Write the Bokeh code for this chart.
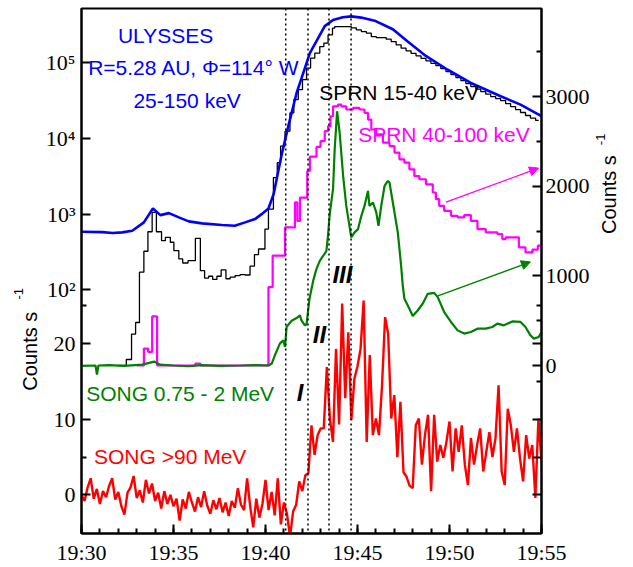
import math
from bokeh.plotting import figure
from bokeh.layouts import row
from bokeh.models import (Range1d, LogScale, LinearAxis, FixedTicker, CustomJSTickFormatter,
                          Span, Label, Arrow, NormalHead)
from bokeh.core.properties import value
from bokeh.embed import file_html
from bokeh.resources import INLINE

# ---------------- data (time = minutes after 19:30 UT) ----------------
x_ticks = [0, 5, 10, 15, 20, 25]
x_tick_labels = ["19:30", "19:35", "19:40", "19:45", "19:50", "19:55"]

# ULYSSES 25-150 keV (left log axis)
ulysses_t = [0.0, 1.14, 1.68, 2.22, 2.76, 3.39, 3.88, 4.29, 4.75, 5.29, 5.83, 6.55, 7.63,
             8.33, 8.89, 9.43, 9.79, 10.16, 10.44, 10.66, 10.88, 11.24, 11.69, 12.05, 12.41,
             12.86, 13.22, 13.67, 14.2, 14.66, 15.2, 15.93, 16.92, 17.73, 18.63, 19.90, 21.16,
             22.78, 23.86, 24.85, 25.0]
ulysses_counts = [585, 579, 562, 574, 603, 778, 1189, 970, 1031, 905, 802, 755, 717,
                  702, 778, 860, 1000, 1189, 1834, 3357, 6152, 14520, 39900, 73100, 134300,
                  211500, 305000, 368000, 400000, 410000, 395000, 360000, 277000, 190500, 127400,
                  80900, 54100, 36100, 28000, 20700, 19600]

# SPRN 15-40 keV (left log axis, histogram)
sprn_lo_t = [2.0, 2.435, 2.72, 2.94, 3.15, 3.39, 3.61, 3.84, 4.07, 4.35, 4.56, 4.83, 5.02,
             5.29, 5.50, 5.79, 6.19, 6.46, 6.69, 6.91, 7.13, 7.36, 7.59, 7.85, 8.08, 8.35,
             8.62, 8.89, 9.16, 9.40, 9.62, 9.97, 10.16, 10.43, 10.64, 10.82, 11.06, 11.33,
             11.54, 11.78, 12.01, 12.23, 12.45, 12.68, 12.95, 13.17, 13.40, 13.64, 13.76,
             14.66, 14.94, 15.21, 15.48, 15.75, 16.02, 16.56, 16.83, 17.10, 17.37, 17.64,
             17.91, 18.18, 18.45, 18.72, 18.99, 19.26, 19.53, 19.81, 20.08, 20.35, 20.62,
             20.89, 21.16, 21.43, 21.70, 21.97, 22.24, 22.51, 22.78, 23.05, 23.32, 23.59,
             23.86, 24.13, 24.40, 24.68, 24.85]
sprn_lo_counts = [10, 12, 26, 37, 171, 323, 585, 1052, 585, 446, 493, 425, 329,
                  256, 226, 243, 479, 179, 143, 151, 137, 151, 183, 140, 147, 154,
                  159, 157, 205, 291, 346, 635, 1164, 3041, 4786, 7925, 12470, 21780,
                  32580, 44160, 59700, 85110, 115300, 134300, 163700, 181600, 233300, 286400, 300600,
                  289100, 271600, 258200, 246000, 221800, 215300, 205100, 190500, 172600, 156000, 143900,
                  133400, 123600, 114600, 106200, 98400, 91400, 83400, 76200, 69500, 63500, 57900,
                  53000, 48300, 44800, 41500, 38500, 35700, 33600, 31600, 28900, 26400, 24100,
                  22000, 20100, 18600, 17300, 17300]

# SPRN 40-100 keV (right axis, histogram)
sprn_hi_t = [3.0, 3.39, 3.62, 3.84, 4.11, 6.19, 6.46, 10.16, 10.39, 11.06, 11.60, 11.73, 11.87,
             12.27, 12.41, 12.77, 12.99, 13.22, 13.40, 13.53, 13.67, 13.94, 14.12, 14.39, 14.76,
             15.11, 15.38, 15.57, 15.75, 16.02, 16.38, 16.74, 17.01, 17.28, 17.55, 17.82, 18.09,
             18.36, 18.72, 19.09, 19.26, 19.44, 19.71, 20.08, 20.44, 20.80, 21.16, 21.52, 21.97,
             22.60, 22.87, 23.05, 23.77, 24.13, 24.50, 24.80, 25.0]
sprn_hi_counts = [0, 189, 152, 548, 0, 22, 0, 874, 1226, 1541, 1819, 1614, 1874,
                  2170, 2330, 2439, 2503, 2614, 2670, 2781, 2892, 2911, 2892, 2856, 2874,
                  2856, 2819, 2744, 2633, 2578, 2486, 2448, 2374, 2300, 2263, 2189, 2114,
                  2078, 2022, 1930, 1856, 1781, 1726, 1670, 1652, 1678, 1614, 1522, 1486,
                  1467, 1411, 1430, 1319, 1263, 1292, 1337, 1337]

# SONG 0.75 - 2 MeV (right axis)
song_lo_t = [0.0, 0.76, 0.84, 0.92, 1.5, 2.3, 3.3, 3.73, 3.95, 4.27, 5.0, 5.8, 6.55, 7.5,
             8.71, 9.5, 10.16, 10.34, 10.51, 10.78, 10.97, 11.06, 11.15, 11.42, 11.69, 11.87,
             11.96, 12.14, 12.23, 12.39, 12.59, 12.77, 12.95, 13.13, 13.31, 13.40, 13.49, 13.67,
             13.76, 13.89, 14.03, 14.22, 14.39, 14.66, 14.84, 15.03, 15.21, 15.38, 15.57, 15.65,
             15.84, 16.02, 16.14, 16.29, 16.47, 16.65, 16.74, 16.92, 17.19, 17.37, 17.46, 17.55,
             17.82, 18.0, 18.27, 18.54, 18.82, 19.17, 19.36, 19.71, 20.08, 20.44, 20.8, 21.16,
             21.52, 21.97, 22.33, 22.6, 22.96, 23.41, 23.86, 24.13, 24.4, 24.58, 24.85, 25.0]
song_lo_counts = [-5, 0, -100, 0, 5, -5, 10, 33, 44, 10, 0, -8, 5, -5,
                  0, 5, 0, 22, 114, 244, 281, 208, 433, 500, 530, 559,
                  500, 448, 460, 744, 944, 1078, 1167, 1222, 1278, 1456, 1689, 1967,
                  2411, 2837, 2597, 2114, 1781, 1430, 1486, 1522, 1670, 1781, 1948, 1781,
                  1819, 1708, 1559, 1781, 2003, 2059, 2041, 1819, 1486, 1114, 892, 744,
                  633, 552, 614, 689, 800, 811, 763, 597, 486, 392, 356, 374,
                  411, 411, 430, 467, 448, 492, 486, 430, 337, 300, 319, 374]

# SONG >90 MeV (left linear axis), 10 s samples
song_hi_t = [i / 6 for i in range(151)]
song_hi_counts = [
    0.0, -0.8, 1.0, 2.2, -0.5, 0.8, -1.2, 0.5, -0.3, 1.2,
    2.2, -0.6, 0.4, -1.5, -2.6, 0.3, 1.0, 2.5, -0.4, 0.6,
    -1.0, 2.0, 0.2, 1.5, -0.8, 0.3, -1.8, 0.5, -1.2, 0.0,
    -1.5, -0.5, -3.4, -0.6, -1.8, 0.4, -1.0, -2.2, -0.3, -1.6,
    0.5, -1.4, -2.5, -0.7, -1.9, -0.4, -2.3, -1.0, -2.8, -0.8,
    -1.7, 0.9, -1.3, -2.0, 2.2, -1.5, -4.3, -0.5, -3.0, -1.2,
    2.0, -2.0, 0.4, -2.7, 2.2, -3.9, -1.0, -2.5, -5.5, -2.2,
    -1.3, 1.8, 0.5, 2.6, 2.9, 9.2, 5.3, 7.9, 8.8, 8.8,
    16.9, 10.1, 7.0, 19.3, 9.3, 25.3, 12.8, 21.5, 9.9, 15.4,
    17.0, 19.3, 25.7, 7.0, 18.5, 7.9, 10.1, 7.9, 14.5, 23.5,
    21.3, 10.1, 13.2, 5.0, 12.3, 3.0, 2.4, 1.2, 0.9, 9.2,
    10.1, 4.0, 7.9, 10.6, 0.5, 10.6, 4.4, 6.6, 4.9, 7.0,
    9.7, 3.1, 8.8, 5.7, 9.2, 4.0, 1.3, 7.5, 4.0, 6.6,
    8.8, 3.1, 5.7, 8.3, 5.0, 7.5, 14.5, 3.1, 1.3, 11.4,
    9.2, 5.7, 8.8, 4.8, 1.8, 7.9, 4.8, 6.6, -0.4, 10.1,
    4.4]

event_times = [11.10, 12.31, 13.45, 14.65]

left_log_decades = [5, 4, 3, 2]
left_log_labels = ["10\u2075", "10\u2074", "10\u00b3", "10\u00b2"]
left_lin_ticks = [20, 10, 0]
left_lin_minor = [25, 5]
right_major = [0, 1000, 2000, 3000]
right_minor = [500, 1500, 2500, 3500]

# ---------------- scales ----------------
RED_LO, RED_HI = -5.1, 64.3          # SONG >90 MeV linear (primary)
RIGHT_LO, RIGHT_HI = -1874.0, 3983.0  # right axis linear
LOG_LO, LOG_HI = 0.0603, 521000.0     # upper log scale


def red_from_log(v):
    f = (math.log10(v) - math.log10(LOG_LO)) / (math.log10(LOG_HI) - math.log10(LOG_LO))
    return RED_LO + f * (RED_HI - RED_LO)


def right_from_red(r):
    f = (r - RED_LO) / (RED_HI - RED_LO)
    return RIGHT_LO + f * (RIGHT_HI - RIGHT_LO)


LEFT_W, RIGHT_W, H = 42, 41, 567
TOP_B, BOT_B = 8, 31
y_main = Range1d(RED_LO, RED_HI)
p = figure(width=633 - LEFT_W - RIGHT_W, height=H, x_range=Range1d(0, 25), y_range=y_main,
           output_backend="svg", toolbar_location=None,
           min_border_left=79 - LEFT_W, min_border_right=51, min_border_top=TOP_B, min_border_bottom=BOT_B)
p.extra_y_ranges = {"log": Range1d(LOG_LO, LOG_HI), "right": Range1d(RIGHT_LO, RIGHT_HI)}
p.extra_y_scales = {"log": LogScale()}
p.xgrid.visible = False
p.ygrid.visible = False
p.outline_line_color = "black"
p.outline_line_width = 2
p.background_fill_color = "white"
p.border_fill_color = "white"

FMT = """
for (let i = 0; i < tv.length; i++) { if (Math.abs(tick - tv[i]) < 1e-6) return tl[i]; }
return "";
"""


def style_axis(ax, standoff):
    ax.axis_line_width = 2
    ax.axis_line_color = "black"
    ax.major_tick_in = 9
    ax.major_tick_out = 0
    ax.minor_tick_in = 5
    ax.minor_tick_out = 0
    ax.major_tick_line_width = 2
    ax.minor_tick_line_width = 2
    ax.major_label_text_font = "Liberation Serif"
    ax.major_label_text_font_size = "22px"
    ax.major_label_text_color = "black"
    ax.major_label_standoff = standoff


# bottom axis
xa = p.xaxis[0]
xa.ticker = FixedTicker(ticks=x_ticks, minor_ticks=list(range(0, 26)))
xa.major_label_overrides = {t: s for t, s in zip(x_ticks, x_tick_labels)}
style_axis(xa, 6)

# left axis (log decades of the upper panel + linear SONG >90 MeV scale)
log_pos = [red_from_log(10 ** d) for d in left_log_decades]
ya = p.yaxis[0]
ya.ticker = FixedTicker(ticks=log_pos + left_lin_ticks, minor_ticks=left_lin_minor)
ya.formatter = CustomJSTickFormatter(
    args=dict(tv=log_pos + left_lin_ticks, tl=left_log_labels + [str(v) for v in left_lin_ticks]), code=FMT)
style_axis(ya, 6)

# right axis
mirror = [right_from_red(r) for r in left_lin_ticks + [5]]
mirror_minor = [right_from_red(r) for r in [25, 15]]
ra = LinearAxis(y_range_name="right",
                ticker=FixedTicker(ticks=right_major + mirror, minor_ticks=right_minor + mirror_minor),
                formatter=CustomJSTickFormatter(args=dict(tv=right_major, tl=[str(v) for v in right_major]), code=FMT))
style_axis(ra, 4)
p.add_layout(ra, "right")

# event lines
for t in event_times:
    p.add_layout(Span(location=t, dimension="height", line_color="black",
                      line_dash="2 3", line_width=1.5))

# curves
p.step(sprn_lo_t, sprn_lo_counts, mode="after", y_range_name="log", line_color="black", line_width=1.3)
p.line(ulysses_t, ulysses_counts, y_range_name="log", line_color="#0000FF", line_width=2.6)
p.step(sprn_hi_t, sprn_hi_counts, mode="after", y_range_name="right", line_color="#FF00FF", line_width=2.2)
p.line(song_lo_t, song_lo_counts, y_range_name="right", line_color="#008000", line_width=2.2)
p.line(song_hi_t, song_hi_counts, line_color="#FF0000", line_width=2.4)

# arrows
p.add_layout(Arrow(x_start=19.81, y_start=38.7, x_end=24.84, y_end=43.2,
                   line_color="#FF00FF", line_width=1.3,
                   end=NormalHead(size=9, fill_color="#FF00FF", line_color="#FF00FF")))
p.add_layout(Arrow(x_start=19.37, y_start=26.3, x_end=24.40, y_end=30.8,
                   line_color="#008000", line_width=1.3,
                   end=NormalHead(size=9, fill_color="#008000", line_color="#008000")))

# text labels
SANS = "Liberation Sans"
texts = [
    ("ULYSSES", 4.57, 60.7, "#0000FF"),
    ("R=5.28 AU, \u03a6=114\u00b0 W", 6.11, 56.5, "#0000FF"),
    ("25-150 keV", 5.74, 52.2, "#0000FF"),
    ("SPRN 15-40 keV", 17.26, 53.2, "black"),
    ("SPRN 40-100 keV", 19.70, 47.6, "#FF00FF"),
    ("SONG 0.75 - 2 MeV", 5.36, 13.4, "#008000"),
    ("SONG >90 MeV", 4.82, 5.1, "#FF0000"),
]
for txt, x, y, c in texts:
    p.add_layout(Label(x=x, y=y, text=txt, text_color=c, text_font=SANS, text_font_size="21px",
                       text_align="center", text_baseline="middle"))

for txt, x, y in [("I", 11.88, 13.55), ("II", 12.93, 21.2), ("III", 14.18, 29.1)]:
    p.add_layout(Label(x=x, y=y, text=txt, text_color="black", text_font=SANS, text_font_size="24px",
                       text_font_style="bold italic", text_align="center", text_baseline="middle"))


# side panels with the rotated axis titles (frames aligned with the main frame)
def title_panel(w, items):
    f = figure(width=w, height=H, x_range=Range1d(0, w), y_range=y_main,
               output_backend="svg", toolbar_location=None,
               x_axis_location=None, y_axis_location=None,
               min_border_left=0, min_border_right=0, min_border_top=TOP_B, min_border_bottom=BOT_B)
    f.grid.visible = False
    f.outline_line_color = None
    f.background_fill_color = "white"
    f.border_fill_color = "white"
    for txt, x, y, size in items:
        f.text(x=[x], y=[y], text=[txt], angle=math.pi / 2, text_font=value(SANS),
               text_font_size=value(size), text_align="center", text_baseline="middle", text_color="black")
    return f


left_panel = title_panel(LEFT_W, [("Counts s", 29, 19.0, "20px"), ("-1", 18, 26.6, "13px")])
right_panel = title_panel(RIGHT_W, [("Counts s", 16, 39.7, "20px"), ("-1", 8, 47.0, "13px")])

layout = row(left_panel, p, right_panel, spacing=0)
open("out.html", "w").write(file_html(layout, INLINE))
